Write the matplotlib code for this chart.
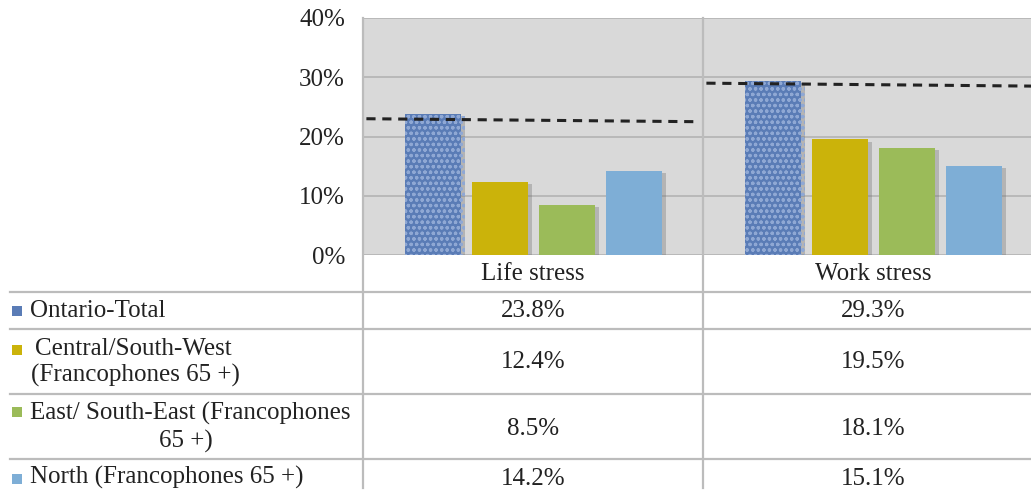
import matplotlib
matplotlib.use('Agg')
import matplotlib.pyplot as plt
import matplotlib.transforms as mtransforms
import matplotlib.patheffects as pe
from matplotlib.lines import Line2D
from matplotlib.patches import Rectangle
import numpy as np

# ---- data ----
categories = ["Life stress", "Work stress"]
series_names = ["Ontario-Total",
                "Central/South-West\n(Francophones 65 +)",
                "East/ South-East (Francophones\n65 +)",
                "North (Francophones 65 +)"]
ontario_total = [23.8, 29.3]
central_sw = [12.4, 19.5]
east_se = [8.5, 18.1]
north = [14.2, 15.1]
ref_line_start = [23.0, 29.0]
ref_line_end = [22.5, 28.5]
y_ticks = [0, 10, 20, 30, 40]
y_tick_labels = ["0%", "10%", "20%", "30%", "40%"]
value_labels = [["23.8%", "29.3%"], ["12.4%", "19.5%"], ["8.5%", "18.1%"], ["14.2%", "15.1%"]]

series = [ontario_total, central_sw, east_se, north]
colors = ['#5a7cb6', '#cbb30a', '#9bbb59', '#7eaed6']

W, H = 1031, 491
plt.rcParams['font.family'] = ['Liberation Serif', 'DejaVu Serif']
plt.rcParams['hatch.linewidth'] = 0.9
FS = 18
TXT = '#222222'
LINE = '#bcbcbc'

fig = plt.figure(figsize=(W / 100, H / 100), dpi=100)
fig.patch.set_facecolor('white')
ax = fig.add_axes([363 / W, 1 - 255 / H, 680 / W, 237 / H])
pix = mtransforms.Affine2D().scale(1 / W, -1 / H).translate(0, 1) + fig.transFigure
xd_pix = mtransforms.blended_transform_factory(ax.transData, pix)

ax.set_facecolor('#d9d9d9')
ax.set_xlim(0, len(categories))
ax.set_ylim(0, 40)
for s in ax.spines.values():
    s.set_visible(False)
ax.set_xticks([])
ax.set_yticks(y_ticks, y_tick_labels)
ax.tick_params(axis='y', length=0, pad=13, labelsize=FS, labelcolor=TXT)
ax.yaxis.grid(True, color='#b3b3b3', lw=1.2)
ax.set_axisbelow(True)

x = np.arange(len(categories)) + 0.5
step = 67 / 340
width = 56 / 340
for k, vals in enumerate(series):
    kw = {}
    if k == 0:
        kw = dict(hatch='ooo', edgecolor='#8fa8d4')
    bars = ax.bar(x + (k - 1.5) * step, vals, width, color=colors[k], zorder=3,
                  linewidth=0, **kw)
    for b in bars:
        b.set_path_effects([pe.SimplePatchShadow(offset=(3, -1.5), shadow_rgbFace='#707070', alpha=0.35),
                            pe.Normal()])

for i in range(len(categories)):
    ax.plot([i + 0.01, i + 0.98], [ref_line_start[i], ref_line_end[i]], color='#222222',
            lw=2.2, linestyle=(0, (3, 2.2)), zorder=4)

# ---- table ----
for i, c in enumerate(categories):
    fig.text(x[i], 274, c, transform=xd_pix, ha='center', va='center', fontsize=FS, color=TXT)

for y in [292, 329, 394, 459]:
    fig.add_artist(Line2D([10, W], [y, y], transform=pix, color=LINE, lw=1.6))
for xv in range(len(categories) + 1):
    fig.add_artist(Line2D([xv, xv], [18, 488], transform=xd_pix, color=LINE, lw=1.6))

value_y = [311, 362, 429, 479]
for k in range(len(series)):
    for i in range(len(categories)):
        fig.text(x[i], value_y[k], value_labels[k][i], transform=xd_pix, ha='center', va='center',
                 fontsize=FS, color=TXT)

# row labels with swatches
line1_y = [311, 349, 413, 477]
line1_x = [30, 35, 30, 30]
line2_y = [None, 375, 441, None]
line2_x = [None, 135, 186, None]
swatch_y = [311, 350, 412, 479]
for k, name in enumerate(series_names):
    lines = name.split('\n')
    fig.add_artist(Rectangle((12, swatch_y[k] - 5), 10, 10, transform=pix, color=colors[k], lw=0))
    fig.text(line1_x[k], line1_y[k], lines[0], transform=pix, ha='left', va='center',
             fontsize=FS, color=TXT)
    if len(lines) > 1:
        fig.text(line2_x[k], line2_y[k], lines[1], transform=pix, ha='center', va='center',
                 fontsize=FS, color=TXT)

fig.savefig('out.png', dpi=100, facecolor='white')
